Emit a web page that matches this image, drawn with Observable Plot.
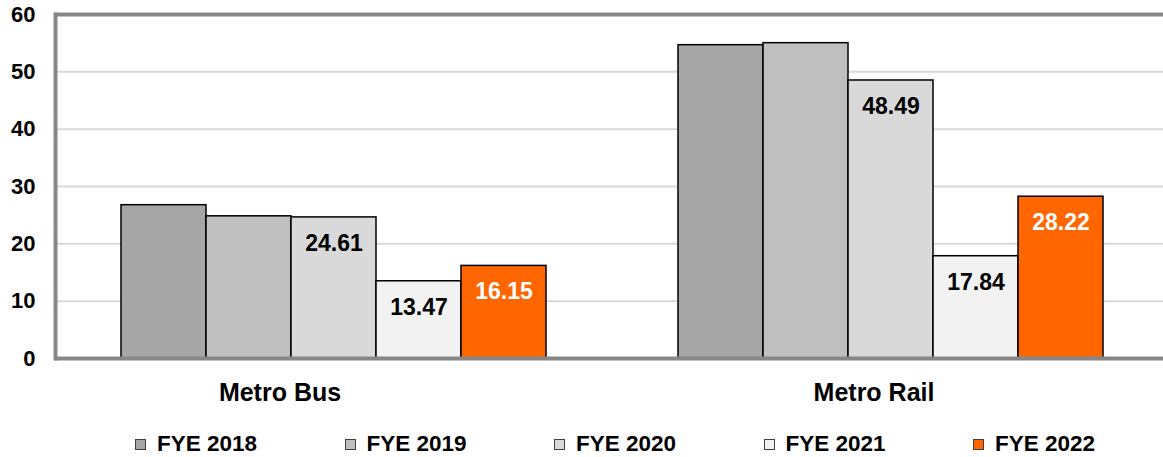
<!DOCTYPE html>
<html>
<head>
<meta charset="utf-8">
<script src="https://cdn.jsdelivr.net/npm/d3@7"></script>
<script src="https://cdn.jsdelivr.net/npm/@observablehq/plot@0.6"></script>
<style>
  html, body { margin: 0; padding: 0; background: #fff; overflow: hidden; }
  #wrap { position: relative; width: 1163px; height: 457px; font-family: "Liberation Sans", Arial, sans-serif; font-weight: bold; }
  #legend { position: absolute; left: 135px; top: 432px; display: flex; }
  .item { width: 209.5px; display: flex; align-items: center; font-size: 22.5px; line-height: 24px; color: #000; }
  .sw { width: 9px; height: 9px; border: 1px solid #404040; margin-right: 11px; }
</style>
</head>
<body>
<div id="wrap"></div>
<script>
const categories = ["Metro Bus", "Metro Rail"];
const years = ["FYE 2018", "FYE 2019", "FYE 2020", "FYE 2021", "FYE 2022"];
const busValues = [26.74, 24.8, 24.61, 13.47, 16.15];
const railValues = [54.65, 55.0, 48.49, 17.84, 28.22];
const labeledYears = ["FYE 2020", "FYE 2021", "FYE 2022"];
const highlightYear = "FYE 2022";
const colors = ["#a6a6a6", "#bfbfbf", "#d9d9d9", "#f2f2f2", "#ff6600"];
const yTicks = [0, 10, 20, 30, 40, 50, 60];

const table = [];
years.forEach((yr, i) => table.push({category: categories[0], year: yr, value: busValues[i]}));
years.forEach((yr, i) => table.push({category: categories[1], year: yr, value: railValues[i]}));

const dark = table.filter(d => labeledYears.includes(d.year) && d.year !== highlightYear);
const light = table.filter(d => d.year === highlightYear);
const font = "'Liberation Sans', Arial, sans-serif";
const axisGray = "#878787";

const chart = Plot.plot({
  width: 1163,
  height: 425,
  marginLeft: 55,
  marginRight: -6,
  marginTop: 14,
  marginBottom: 67,
  style: {fontFamily: font, fontWeight: "bold", background: "#fff", color: "#000", overflow: "hidden"},
  fx: {domain: categories, padding: 0, axis: null},
  x: {domain: years, paddingInner: 0, paddingOuter: 0.74, axis: null},
  y: {domain: [0, 60], axis: null},
  color: {domain: years, range: colors},
  marks: [
    Plot.gridY(yTicks, {stroke: "#d9d9d9", strokeWidth: 2, strokeOpacity: 1}),
    Plot.barY(table, {fx: "category", x: "year", y: "value", fill: "year", stroke: "#000", strokeWidth: 1.5}),
    Plot.text(dark, {fx: "category", x: "year", y: "value", text: d => d.value.toFixed(2), dy: 26, fill: "#000", fontSize: 23, fontWeight: "bold"}),
    Plot.text(light, {fx: "category", x: "year", y: "value", text: d => d.value.toFixed(2), dy: 26, fill: "#fff", fontSize: 23, fontWeight: "bold"}),
    Plot.ruleY([0], {stroke: axisGray, strokeWidth: 4}),
    Plot.ruleY([60], {stroke: axisGray, strokeWidth: 4}),
    Plot.frame({anchor: "left", fx: [categories[0]], stroke: axisGray, strokeWidth: 4}),
    Plot.axisY(yTicks, {tickSize: 0, tickPadding: 20, fontSize: 22, fontWeight: "bold", label: null}),
    Plot.text([{category: categories[0]}], {fx: "category", frameAnchor: "bottom", text: "category", dy: 42, dx: -54, fontSize: 25, fontWeight: "bold", fill: "#000"}),
    Plot.text([{category: categories[1]}], {fx: "category", frameAnchor: "bottom", text: "category", dy: 42, dx: -17, fontSize: 25, fontWeight: "bold", fill: "#000"})
  ]
});

const wrap = document.getElementById("wrap");
wrap.appendChild(chart);

const legend = document.createElement("div");
legend.id = "legend";
years.forEach((yr, i) => {
  const item = document.createElement("div");
  item.className = "item";
  const sw = document.createElement("span");
  sw.className = "sw";
  sw.style.background = colors[i];
  const t = document.createElement("span");
  t.textContent = yr;
  item.appendChild(sw);
  item.appendChild(t);
  legend.appendChild(item);
});
wrap.appendChild(legend);
</script>
</body>
</html>
